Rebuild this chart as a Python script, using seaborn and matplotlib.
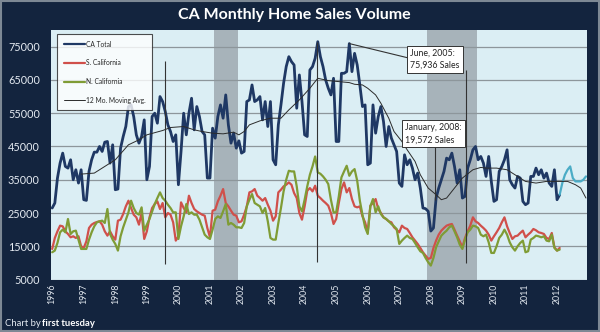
import numpy as np
import pandas as pd
import matplotlib
matplotlib.use("Agg")
import matplotlib.pyplot as plt
import seaborn as sns
from matplotlib.lines import Line2D
from matplotlib.patches import Rectangle

# ---------------- data (thousands of sales, monthly from Jan 1996) ----------------
first_year = 1996
ca_total = [
    26.5, 28, 35.5, 40, 43, 39, 38.5, 41, 35, 38, 34, 38,
    29, 28.8, 37.5, 41, 43.3, 43.3, 45, 43.5, 46.3, 46.5, 40, 45.5,
    32, 32.2, 44.5, 48, 51, 57, 57.5, 54, 48.5, 46, 48, 53,
    35, 39, 54, 55, 52, 60, 58.5, 55.5, 51.5, 49.5, 46.5, 48.5,
    33.5, 43.5, 55, 48.5, 55, 59.5, 50, 57, 54, 49.5, 48.5, 35.5,
    35.5, 50.5, 47.5, 54, 57.5, 53.5, 60.5, 51.5, 46, 49, 44.5, 46.7,
    43, 43.5, 58.5, 59, 63.5, 58.5, 59, 60, 53, 58.5, 51, 58.5,
    41, 39.5, 51.5, 57.5, 64, 69, 72, 70.5, 69.5, 56.5, 66.5, 58.5,
    48.5, 48, 68, 69, 71.5, 76.5, 72, 69, 65, 62.5, 60.5, 65.5,
    46.5, 46.5, 67, 67, 67.5, 75.936, 67.5, 73, 69.5, 63.5, 57, 57.5,
    39.5, 40, 57.5, 49, 54, 57, 52.5, 45, 51, 47.5, 45.5, 43.5,
    34, 33, 42.5, 39.5, 41, 38.5, 35, 37, 32.5, 26.5, 26.3, 25.5,
    19.572, 20.5, 29.5, 32.5, 35, 37.5, 41.5, 41, 43, 39, 34, 38,
    29.5, 30, 38.5, 41, 44, 45, 41, 42, 40, 36, 42, 34.5,
    28.5, 29, 37.5, 39, 41, 44, 35, 33.5, 32.5, 36, 35.5, 28.5,
    27.5, 28, 36, 36, 38.5, 36.5, 38, 35.5, 37, 34, 33, 38,
    29, 30.5,
]
# light-blue continuation (from the last CA Total month onward)
ca_projection = [30.5, 34, 36.5, 38, 39, 35.5, 34.5, 34.5, 34.5, 35, 36]

s_california = [
    14.2, 17.5, 19.5, 21.2, 21, 19.5, 18.7, 17.7, 18, 17.5, 18, 15,
    14.5, 16.5, 20.5, 21.5, 22, 22.3, 22.5, 21.5, 19.5, 18.2, 19.5, 18,
    17, 22.7, 23, 24.7, 27, 28.7, 26.5, 24.5, 23.7, 21.5, 25, 17.2,
    19.5, 23.7, 26.5, 27.7, 28.5, 26.2, 28, 23.7, 25, 24.5, 22.2, 16.7,
    18, 28.2, 26.5, 25.2, 30.2, 28, 26.2, 25.5, 25, 24.5, 24.2, 20.5,
    17.7, 25.7, 26, 28.5, 30.2, 32.2, 28, 27, 25.7, 24.5, 24.2, 22.2,
    22.5, 24.5, 27, 31.2, 31.5, 32.2, 30.2, 29.5, 28.7, 29.5, 27.5, 25.7,
    22.7, 24, 31.2, 32, 33, 33.5, 34.2, 33.5, 31, 29.5, 25, 23,
    27, 31.7, 32.5, 31.5, 33.2, 30.2, 29.5, 28.7, 28, 27.2, 25, 21.7,
    23.2, 28, 32.2, 34.2, 31.2, 32.5, 29.2, 27, 26.7, 27, 24, 22.2,
    19.2, 27.2, 28, 29.2, 26.2, 25, 23.7, 23.2, 22.5, 22.2, 20.7, 20,
    19.2, 21.2, 20.5, 20.2, 19, 17.7, 16.7, 15.7, 14.5, 13.2, 12.2, 11.2,
    11.5, 14.5, 16.7, 18.5, 19.7, 20.5, 21.2, 21.5, 21.7, 20, 18.2, 16.5,
    14.7, 17.5, 19.5, 21.2, 23.7, 22.5, 22, 21.2, 20.5, 19.7, 18.5, 16.7,
    18, 19.2, 20.5, 22.2, 23.7, 21, 19, 17.2, 18, 18.2, 19, 19.7,
    17.7, 18.5, 19.2, 20.2, 19.8, 19.2, 19, 18.7, 17.5, 17.2, 19, 14.7,
    13.7, 14.5,
]

n_california = [
    13.2, 13.7, 16, 19.2, 20, 19.2, 23.2, 18.7, 19.5, 19.7, 17, 14.2,
    14.2, 14.2, 17, 19.2, 21, 22.2, 22.5, 22.7, 22, 26.2, 18.7, 17,
    15.7, 13.7, 18, 20.7, 23, 25.2, 28.7, 26.5, 25, 24.5, 26.7, 19.7,
    21.5, 23.2, 25.5, 27.7, 29.5, 31.2, 29.5, 28.7, 27.5, 26.5, 25.2, 25.2,
    17.2, 21, 24, 27.7, 24.7, 25.2, 24.5, 24.5, 23, 20.7, 18.5, 17.7,
    17.2, 20, 23.2, 24, 23.5, 25.5, 27.7, 21.5, 22, 21.5, 20.7, 20.7,
    20.5, 22, 27, 29, 30.7, 28, 27.5, 27, 25, 26.5, 22.5, 17.5,
    17, 17, 22, 26.5, 31.5, 35, 37.7, 37.5, 37.5, 33, 27, 25.5,
    29, 33, 36.5, 39, 42, 37.2, 36.8, 36, 35, 33.7, 29, 25.2,
    25.2, 30, 35.7, 37.5, 39.2, 36.2, 37.5, 38.2, 34.7, 28.7, 24.5, 20.7,
    18.7, 27, 29.2, 25.2, 27, 24.7, 23.7, 23.2, 22.5, 21.7, 21, 20.2,
    15.7, 16.7, 17.5, 18.2, 17.5, 17.2, 16, 14.7, 13.5, 13, 11.5, 10.2,
    9.2, 11.5, 14.7, 16.5, 18.2, 19, 19.7, 20.7, 21.2, 19.5, 17.7, 15.5,
    14.2, 17, 19.2, 20, 21.2, 21, 20.5, 18.5, 18, 18.5, 16.2, 13,
    13, 15, 17.5, 18.5, 20, 18.5, 16.2, 14.7, 13.7, 15, 16, 16.7,
    13.2, 13.5, 17, 17.5, 18.2, 18, 17.7, 18, 16.7, 16.5, 18.5, 14.5,
    13.7, 14,
]

# 12-month moving average (month index, value)
ma_month = [11, 16, 20, 24, 29, 33, 36, 42, 45, 50, 54, 57, 61, 65, 69, 71, 73, 75,
            79, 83, 87, 90, 94, 98, 101, 105, 109, 113, 115, 118, 120, 123, 125,
            128, 130, 133, 135, 138, 140, 143, 146, 148, 150, 152, 156, 160, 163,
            165, 169, 173, 177, 180, 184, 188, 192, 196, 199, 201, 203]
ma_value = [36.7, 37, 39, 41, 45.5, 47, 48.5, 49.8, 50.7, 51, 50, 49.5, 49, 48.8,
            49.3, 48.5, 49.5, 51.5, 52.7, 53.5, 53.5, 56, 59, 62.5, 65.5, 64.8,
            64.5, 64.2, 63.7, 63.5, 62.5, 60.5, 58, 53.5, 49.5, 46.5, 44, 40.5,
            36.5, 32.5, 30.5, 29, 29.5, 31.5, 35.5, 38, 38.7, 38.5, 38.5, 38, 36,
            34.5, 34, 34.5, 34.5, 34.5, 33.5, 32.5, 29.5]

year_labels = [str(y) for y in range(1996, 2013)]
y_ticks = [5000, 15000, 25000, 35000, 45000, 55000, 65000, 75000]
recessions = [(2001, 3, 2001, 11), (2007, 12, 2009, 6)]
legend_labels = ["CA Total", "S. California", "N. California", "12 Mo. Moving Avg."]

# ---------------- build frames ----------------
def month_pos(idx):
    return first_year + np.asarray(idx, dtype=float) / 12.0

main = pd.DataFrame({
    "t": month_pos(np.arange(len(ca_total))),
    "ca": np.array(ca_total) * 1000,
    "s": np.array(s_california) * 1000,
    "n": np.array(n_california) * 1000,
})
proj = pd.DataFrame({
    "t": month_pos(np.arange(len(ca_projection)) + len(ca_total) - 1),
    "v": np.array(ca_projection) * 1000,
})
ma = pd.DataFrame({"t": month_pos(ma_month), "v": np.array(ma_value) * 1000})

# ---------------- style ----------------
navy = "#13243e"
plot_bg = "#dbeef4"
band = "#a7b3ba"
c_ca = "#1f3864"
c_s = "#d0504b"
c_n = "#7f9c35"
c_proj = "#4bacc6"
txt = "#e4eaf1"

sns.set_style("white")
plt.rcParams["font.family"] = ["Lato", "DejaVu Sans"]

fig = plt.figure(figsize=(6, 3.32), dpi=100, facecolor=navy)
ax = fig.add_axes([0.0848, 0.158, 0.894, 0.7515])
ax.set_facecolor(plot_bg)
for sp in ax.spines.values():
    sp.set_visible(False)

for y0, m0, y1, m1 in recessions:
    a = y0 + (m0 - 1) / 12 - 1 / 24
    b = y1 + (m1 - 1) / 12 + 1 / 24
    ax.axvspan(a, b, color=band, zorder=0.2, lw=0)

ax.set_axisbelow(True)
ax.yaxis.grid(True, color="#8d969b", lw=0.9)
ax.xaxis.grid(False)

sns.lineplot(data=main, x="t", y="ca", ax=ax, color=c_ca, lw=2.0, zorder=3)
sns.lineplot(data=proj, x="t", y="v", ax=ax, color=c_proj, lw=1.6, zorder=3)
sns.lineplot(data=main, x="t", y="s", ax=ax, color=c_s, lw=1.6, zorder=4)
sns.lineplot(data=main, x="t", y="n", ax=ax, color=c_n, lw=1.6, zorder=5)
sns.lineplot(data=ma, x="t", y="v", ax=ax, color="#2b2b2b", lw=0.7, zorder=6)

ax.set_xlim(first_year - 0.5 / 12, first_year + 203.5 / 12)
ax.set_ylim(5000, 80000)
ax.set_yticks(y_ticks)
ax.set_yticklabels([str(v) for v in y_ticks])
ax.set_xticks(list(range(1996, 2013)))
ax.set_xticklabels(year_labels, rotation=90)
ax.tick_params(axis="y", length=0, pad=8, labelsize=7.8, labelcolor=txt)
ax.tick_params(axis="x", length=0, pad=3, labelsize=6.3, labelcolor=txt)
ax.set_xlabel("")
ax.set_ylabel("")

# pointer / marker lines
lc = "#333333"
ax.vlines(month_pos(43), 9700, 70700, color=lc, lw=0.8, zorder=7)
ax.vlines(month_pos(100.6), 10200, 76500, color=lc, lw=0.8, zorder=7)
ax.vlines(month_pos(157.5), 10100, 68000, color=lc, lw=0.8, zorder=7)
ax.vlines(month_pos(145.4), 28800, 45700, color=lc, lw=0.8, zorder=7)
ax.plot([month_pos(113), month_pos(135)], [75936, 71700], color=lc, lw=0.8, zorder=7)

box = dict(boxstyle="square,pad=0.35", fc="white", ec="#333333", lw=0.7)
ax.text(month_pos(136.2), 71200, "June, 2005:\n75,936 Sales", fontsize=6.3,
        ha="left", va="center", color="#222222", bbox=box, zorder=8, linespacing=1.45)
ax.text(month_pos(134.2), 48800, "January, 2008:\n19,572 Sales", fontsize=6.3,
        ha="left", va="center", color="#222222", bbox=box, zorder=8, linespacing=1.45)

handles = [Line2D([], [], color=c_ca, lw=1.6), Line2D([], [], color=c_s, lw=1.6),
           Line2D([], [], color=c_n, lw=1.6), Line2D([], [], color="#2b2b2b", lw=0.7)]
leg = ax.legend(handles, legend_labels, loc="upper left", bbox_to_anchor=(0.0114, 0.984),
                borderaxespad=0, fontsize=4.8, frameon=True, fancybox=False,
                handlelength=3.2, handletextpad=0.1, labelspacing=1.75, borderpad=1.0)
leg.get_frame().set_edgecolor("#222222")
leg.get_frame().set_linewidth(0.8)
leg.get_frame().set_facecolor("white")
leg.set_zorder(9)

fig.text(0.49, 1 - 15.5 / 332, "CA Monthly Home Sales Volume", ha="center", va="center",
         fontsize=11.5, fontweight="bold", color="white")
fig.text(0.009, 1 - 323 / 332, "Chart by", ha="left", va="center", fontsize=6.8, color=txt)
fig.text(0.07, 1 - 323 / 332, "first tuesday", ha="left", va="center", fontsize=6.8,
         fontweight="bold", color="white")

fig.patches.append(Rectangle((0.001, 0.002), 0.997, 0.995, transform=fig.transFigure,
                             fill=False, ec="#7d8894", lw=1.5))

fig.savefig("out.png", dpi=100, facecolor=navy)
